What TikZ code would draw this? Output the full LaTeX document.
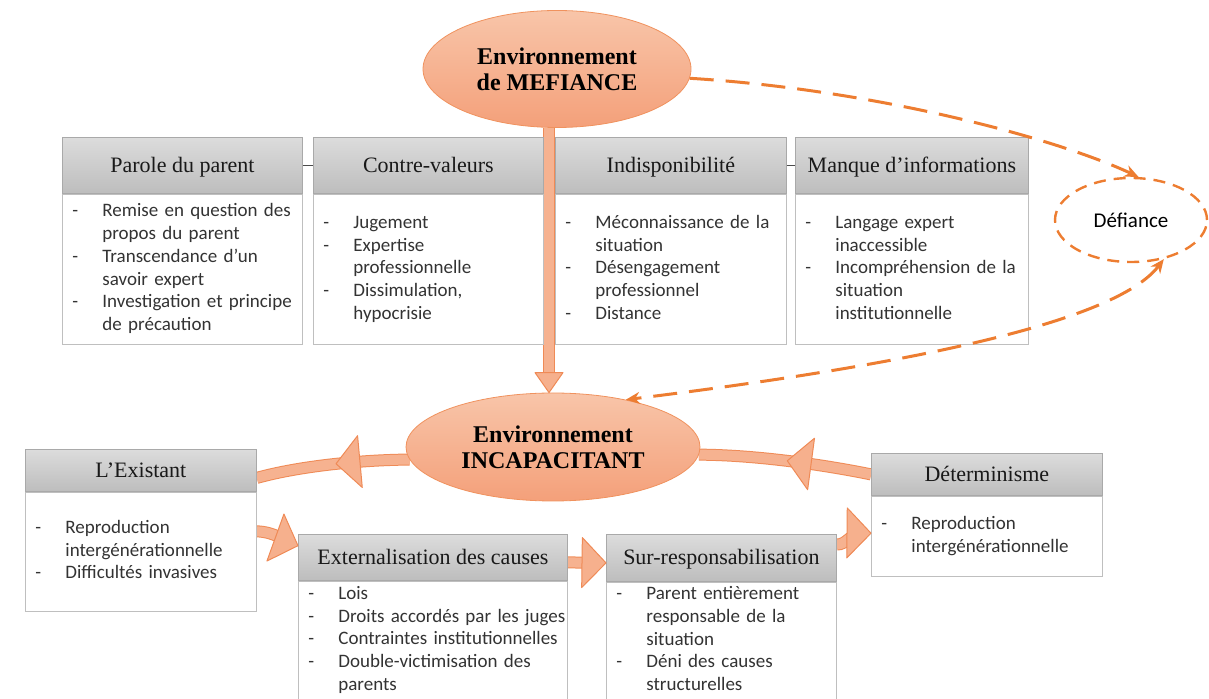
\documentclass[tikz,border=0pt]{standalone}
\usepackage{fontspec}
\setmainfont{Liberation Serif}
\newfontfamily\calib{Carlito}
\usetikzlibrary{arrows.meta, positioning, shapes.geometric, calc, decorations.markings, backgrounds}

\definecolor{hdrtop}{HTML}{DCDCDC}
\definecolor{hdrbot}{HTML}{BDBDBD}
\definecolor{hdrline}{HTML}{A9A9A9}
\definecolor{bodyline}{HTML}{BFBFBF}
\definecolor{elltop}{HTML}{F8C5A9}
\definecolor{ellbot}{HTML}{F4A07A}
\definecolor{ellline}{HTML}{F0925E}
\definecolor{bandfill}{HTML}{F6B290}
\definecolor{bandline}{HTML}{EF8A56}
\definecolor{trifill}{HTML}{F6B08D}
\definecolor{dashcol}{HTML}{ED7D31}

\tikzset{
  hdr/.style={draw=hdrline, top color=hdrtop, bottom color=hdrbot, anchor=north west,
    inner sep=0pt, text height=9pt, text depth=2pt, text=black!90,
    font=\fontsize{11}{13}\selectfont},
  bodybox/.style={draw=bodyline, fill=white, anchor=north west, inner xsep=5pt,
    inner ysep=0pt, align=left, text=black!80, font=\calib\fontsize{9.5}{11.35}\selectfont},
  envell/.style={ellipse, draw=ellline, top color=elltop, bottom color=ellbot,
    inner sep=0pt, align=center, font=\bfseries\fontsize{12}{13}\selectfont},
  band/.style={draw=bandline, line width=0.5pt, double=bandfill, double distance=5pt},
  tri/.style={draw=bandline, fill=trifill, line width=0.5pt, line join=round},
  dashlink/.style={draw=dashcol, line width=1.5pt, dash pattern=on 12pt off 6pt},
  midtri/.style={decorate, decoration={markings, mark=at position #1 with
    {\draw[tri] (6pt,0) -- (-6pt,13pt) -- (-6pt,-13pt) -- cycle;}}},
  endtri/.style 2 args={decorate, decoration={markings, mark=at position 1 with
    {\draw[tri] (0,0) -- (-#1,#2) -- (-#1,-#2) -- cycle;}}},
}

\begin{document}
\begin{tikzpicture}[x=0.5pt, y=-0.5pt]
  \useasboundingbox (0,0) rectangle (1209,699);

  % Environment ellipses
  \node[envell, minimum width=134pt, minimum height=58.5pt] (mef) at (557,69) {Environnement\\de MEFIANCE};
  \node[envell, minimum width=147pt, minimum height=54pt] (inc) at (553,447) {Environnement\\INCAPACITANT};
  \node[ellipse, draw=dashcol, line width=1.2pt, dash pattern=on 6pt off 4pt,
    minimum width=76pt, minimum height=42pt, inner sep=0pt,
    font=\calib\fontsize{10.5}{12}\selectfont] (dfc) at (1131,220) {Défiance};

  % Top row of boxes
  \node[hdr, minimum width=120pt, minimum height=28pt] (parH) at (62,137) {Parole du parent};
  \node[bodybox, text width=110pt, minimum height=75pt] (parB) at (parH.south west) {%
    \begin{tabular}{@{}p{15pt}@{}l@{}}
      - & Remise en question des\\ & propos du parent\\
      - & Transcendance d’un\\ & savoir expert\\
      - & Investigation et principe\\ & de précaution
    \end{tabular}};

  \node[hdr, minimum width=115pt, minimum height=28pt] (ctrH) at (313,137) {Contre-valeurs};
  \node[bodybox, text width=105pt, minimum height=75pt] (ctrB) at (ctrH.south west) {%
    \begin{tabular}{@{}p{15pt}@{}l@{}}
      - & Jugement\\
      - & Expertise\\ & professionnelle\\
      - & Dissimulation,\\ & hypocrisie
    \end{tabular}};

  \node[hdr, minimum width=115.5pt, minimum height=28pt] (indH) at (555,137) {Indisponibilité};
  \node[bodybox, text width=105.5pt, minimum height=75pt] (indB) at (indH.south west) {%
    \begin{tabular}{@{}p{15pt}@{}l@{}}
      - & Méconnaissance de la\\ & situation\\
      - & Désengagement\\ & professionnel\\
      - & Distance
    \end{tabular}};

  \node[hdr, minimum width=116.5pt, minimum height=28pt] (mqiH) at (795,137) {Manque d’informations};
  \node[bodybox, text width=106.5pt, minimum height=75pt] (mqiB) at (mqiH.south west) {%
    \begin{tabular}{@{}p{15pt}@{}l@{}}
      - & Langage expert\\ & inaccessible\\
      - & Incompréhension de la\\ & situation\\ & institutionnelle
    \end{tabular}};

  \draw[black!70] (parH) -- (ctrH);
  \draw[black!70] (indH) -- (mqiH);

  % Bottom row of boxes
  \node[hdr, minimum width=115.5pt, minimum height=21pt] (exiH) at (25,449) {L’Existant};
  \node[bodybox, text width=105.5pt, minimum height=59.5pt] (exiB) at (exiH.south west) {%
    \begin{tabular}{@{}p{15pt}@{}l@{}}
      - & Reproduction\\ & intergénérationnelle\\
      - & Difficultés invasives
    \end{tabular}};

  \node[hdr, minimum width=134.5pt, minimum height=23pt] (extH) at (298,534) {Externalisation des causes};
  \node[bodybox, text width=124.5pt, minimum height=59pt] (extB) at (extH.south west) {%
    \begin{tabular}{@{}p{15pt}@{}l@{}}
      - & Lois\\
      - & Droits accordés par les juges\\
      - & Contraintes institutionnelles\\
      - & Double-victimisation des\\ & parents
    \end{tabular}};

  \node[hdr, minimum width=115pt, minimum height=23.5pt] (surH) at (606,534) {Sur-responsabilisation};
  \node[bodybox, text width=105pt, minimum height=58.5pt] (surB) at (surH.south west) {%
    \begin{tabular}{@{}p{15pt}@{}l@{}}
      - & Parent entièrement\\ & responsable de la\\ & situation\\
      - & Déni des causes\\ & structurelles
    \end{tabular}};

  \node[hdr, minimum width=115.5pt, minimum height=21pt] (detH) at (871,453) {Déterminisme};
  \node[bodybox, text width=105.5pt, minimum height=40pt] (detB) at (detH.south west) {%
    \begin{tabular}{@{}p{15pt}@{}l@{}}
      - & Reproduction\\ & intergénérationnelle
    \end{tabular}};

  % Thick arrows of the cycle
  \coordinate (sh) at (549,0);
  \coordinate (exiE) at ($(exiH.east)!0.35!(exiH.south east)$);
  \coordinate (exiO) at ($(exiB.north east)!0.33!(exiB.south east)$);
  \coordinate (extI) at ($(extH.north west)!0.25!(extH.south west)$);
  \coordinate (extO) at ($(extH.east)+(0,5)$);
  \coordinate (surI) at ($(surH.west)+(0,5)$);
  \coordinate (surO) at ($(surH.north east)!0.22!(surH.south east)$);
  \coordinate (detI) at ($(detB.west)+(0,-3)$);
  \begin{scope}[on background layer]
    \draw[band, shorten >=8pt] (sh |- mef.south) -- (sh |- inc.north);
    \draw[band] (detH.west) .. controls (830,466) and (760,455) .. (inc.-3);
    \draw[band] (inc.185) .. controls (360,460) and (300,466) .. (exiE);
    \draw[band, shorten >=6pt] (exiO) .. controls (275,532) and (285,541) .. (extI);
    \draw[band, shorten >=6pt] (extO) -- (surI);
    \draw[band, shorten >=6pt] (surO) .. controls (846,545) and (852,533) .. (detI);
  \end{scope}
  \path[postaction={endtri={10pt}{7pt}}] (sh |- mef.south) -- (sh |- inc.north);
  \path[postaction={midtri=0.42}] (detH.west) .. controls (830,466) and (760,455) .. (inc.-3);
  \path[postaction={midtri=0.4}] (inc.185) .. controls (360,460) and (300,466) .. (exiE);
  \path[postaction={endtri={12pt}{12.5pt}}] (exiO) .. controls (275,532) and (285,541) .. (extI);
  \path[postaction={endtri={12pt}{12.5pt}}] (extO) -- (surI);
  \path[postaction={endtri={12pt}{12.5pt}}] (surO) .. controls (846,545) and (852,533) .. (detI);

  % Dashed links with Defiance
  \draw[dashlink, -{Stealth[length=7pt, width=6pt]}] (mef.-4) .. controls (880,90) and (1060,140) .. (dfc.80);
  \draw[dashlink, {Stealth[length=7pt, width=6pt]}-{Stealth[length=7pt, width=6pt]}]
    (dfc.-50) .. controls (1110,330) and (850,372) .. (inc.33);
\end{tikzpicture}
\end{document}
